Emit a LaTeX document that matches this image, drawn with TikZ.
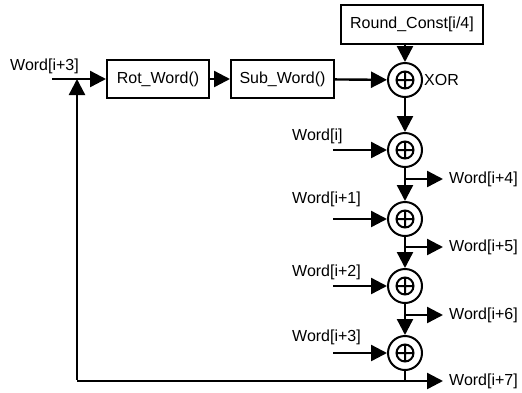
\documentclass[tikz,border=0pt]{standalone}
\usepackage{fontspec}
\setmainfont{Liberation Sans}
\usetikzlibrary{arrows.meta}
\begin{document}
\begin{tikzpicture}[x=1pt,y=-1pt,
  font=\fontsize{16}{19}\selectfont,
  wire/.style={line width=2.4pt,-{Triangle[length=16pt,width=16pt]}},
  plain/.style={line width=2.4pt},
  fnbox/.style={draw,line width=2pt,minimum height=38pt,inner sep=0pt},
  xorop/.style={draw,circle,line width=2pt,minimum size=34pt,inner sep=0pt,
    path picture={\draw[line width=2pt,shift={(path picture bounding box.center)}]
      (0,0) circle (8.5pt) (-8.5pt,0) -- (8.5pt,0) (0,-8.5pt) -- (0,8.5pt);}},
  lbl/.style={anchor=west,inner sep=0pt}]
\useasboundingbox (0,0) rectangle (522,392);

% round function boxes
\node[fnbox,minimum width=102pt] (rot) at (158,79) {Rot\_Word()};
\node[fnbox,minimum width=103pt] (sub) at (282.5,79) {Sub\_Word()};
\node[fnbox,minimum width=142pt,minimum height=39pt] (rc) at (412,24.5) {Round\_Const[i/4]};

% xor chain
\node[xorop] (x0) at (405,80) {};
\node[xorop] (x1) at (405,150) {};
\node[xorop] (x2) at (405,219) {};
\node[xorop] (x3) at (405,286) {};
\node[xorop] (x4) at (405,353) {};
\node[lbl] (xl) at (424,80) {XOR};

% inputs
\node[lbl] (win) at (10,66) {Word[i+3]};
\coordinate (win0) at (52,79);
\coordinate (join) at (77,79);
\coordinate (corner) at (77,381);

\node[lbl] (w0) at (292,136) {Word[i]};
\node[lbl] (w1) at (292,199) {Word[i+1]};
\node[lbl] (w2) at (292,272) {Word[i+2]};
\node[lbl] (w3) at (292,337) {Word[i+3]};
\coordinate (i1) at (333,150);
\coordinate (i2) at (333,219);
\coordinate (i3) at (333,286);
\coordinate (i4) at (333,353);

% outputs
\coordinate (b1) at (405,179);
\coordinate (b2) at (405,247);
\coordinate (b3) at (405,315);
\coordinate (b4) at (405,381);
\coordinate (o1) at (443,179);
\coordinate (o2) at (443,247);
\coordinate (o3) at (443,315);
\coordinate (o4) at (443,381);
\node[lbl] (w4) at (449,179) {Word[i+4]};
\node[lbl] (w5) at (449,247) {Word[i+5]};
\node[lbl] (w6) at (449,315) {Word[i+6]};
\node[lbl] (w7) at (449,381) {Word[i+7]};

% connectors
\draw[wire] (win0) -- (rot.west);
\draw[wire] (rot) -- (sub);
\draw[wire] (sub) -- (x0);
\draw[wire] (rc.south -| x0) -- (x0);
\draw[wire] (x0) -- (x1);
\draw[wire] (x1) -- (x2);
\draw[wire] (x2) -- (x3);
\draw[wire] (x3) -- (x4);
\draw[wire] (i1) -- (x1);
\draw[wire] (i2) -- (x2);
\draw[wire] (i3) -- (x3);
\draw[wire] (i4) -- (x4);
\draw[wire] (b1) -- (o1);
\draw[wire] (b2) -- (o2);
\draw[wire] (b3) -- (o3);
\draw[plain] (x4) -- (b4);
\draw[wire] (corner) -- (o4);
\draw[wire] ([yshift=1.2pt]corner) -- (join);
\end{tikzpicture}
\end{document}
